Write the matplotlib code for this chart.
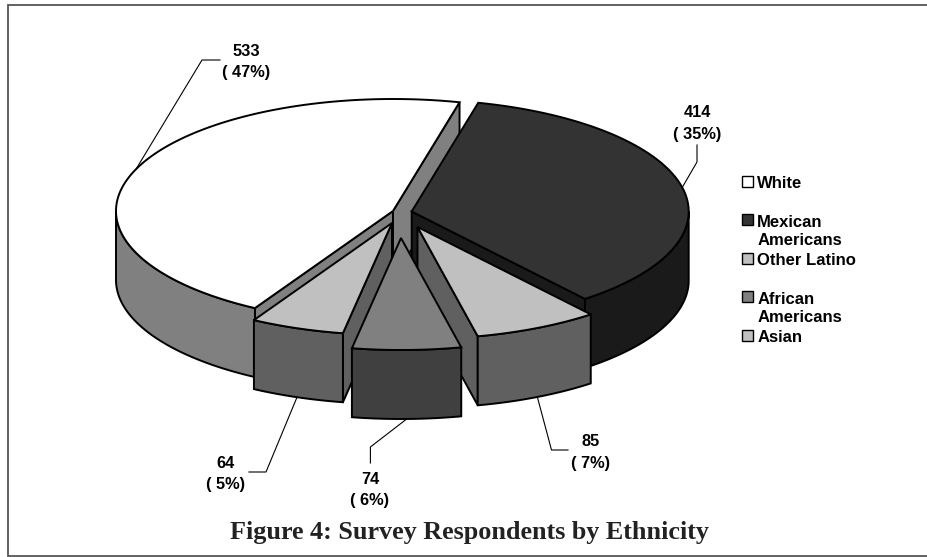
import numpy as np
import matplotlib
matplotlib.use('Agg')
import matplotlib.pyplot as plt
from matplotlib.patches import Polygon, Rectangle

categories = ['White', 'Mexican\nAmericans', 'Other Latino', 'African\nAmericans', 'Asian']
counts = [533, 414, 85, 74, 64]
percents = [47, 35, 7, 6, 5]

# top face, outer wall and cut face of each slice
top_colors = ['#ffffff', '#333333', '#c0c0c0', '#808080', '#c0c0c0']
wall_colors = ['#808080', '#1a1a1a', '#606060', '#404040', '#606060']

# layout in pixels
first_angle = 240.1
rx, ry = 277, 112
depth = 69
slice_centers = [(393, 211), (411.7, 211.5), (417.5, 227), (401, 238), (392, 223)]
label_pos = [(246.5, 51.5), (697.5, 112.5), (590.5, 442), (370, 479.5), (226, 463.5)]
knees = [[(202, 60), (220, 60)], [(697, 162), (697, 145)], [(551.5, 450), (568, 450)],
         [(370.4, 447), (370.4, 463)], [(266, 472), (249, 472)]]
draw_order = [0, 1, 2, 4, 3]

plt.rcParams['font.family'] = ['Liberation Sans', 'DejaVu Sans']

fig = plt.figure(figsize=(9.28, 5.57), dpi=100)
ax = fig.add_axes([0, 0, 1, 1])
ax.set_xlim(0, 928)
ax.set_ylim(557, 0)
ax.axis('off')

# the frame runs off the right edge
ax.add_patch(Rectangle((8.5, 4.5), 940, 551, fc='white', ec='#555555', lw=1.3))


def rim(center, angles):
    a = np.radians(angles)
    return np.column_stack([center[0] + rx * np.cos(a), center[1] - ry * np.sin(a)])


def face(points, fc):
    ax.add_patch(Polygon(points, closed=True, fc=fc, ec='black', lw=1.4, joinstyle='miter'))


total = sum(counts)
sweeps = np.array(counts) / total * 360
stops = first_angle - np.concatenate([[0], np.cumsum(sweeps)])

for i in draw_order:
    hi, lo = stops[i], stops[i + 1]
    c = slice_centers[i]
    drop = np.array([0, depth])

    # only the cut faces turned towards the viewer
    for ang, show in ((hi, np.cos(np.radians(hi)) < 0), (lo, np.cos(np.radians(lo)) > 0)):
        if show:
            edge = np.array([c, rim(c, [ang])[0]])
            face(np.vstack([edge, edge[::-1] + drop]), wall_colors[i])

    if hi > 180:
        wall = np.linspace(180, hi, 80)
    elif hi > 0:
        wall = np.linspace(lo, 0, 80)
    else:
        wall = np.linspace(lo, hi, 80)
    arc = rim(c, wall)
    face(np.vstack([arc, arc[::-1] + drop]), wall_colors[i])

    arc = rim(c, np.linspace(lo, hi, 200))
    face(np.vstack([[c], arc]), top_colors[i])

# leader lines start on the rim at the middle of each slice
for i in range(len(counts)):
    mid = (stops[i] + stops[i + 1]) / 2
    start = rim(slice_centers[i], [mid])[0]
    if np.sin(np.radians(mid)) < 0:
        start = start + [0, depth]
    pts = np.vstack([start, knees[i]])
    ax.plot(pts[:, 0], pts[:, 1], color='black', lw=0.8)
    x, y = label_pos[i]
    ax.text(x, y, str(counts[i]), ha='center', va='center', fontsize=11.8, fontweight='bold')
    ax.text(x, y + 21.5, '( %d%%)' % percents[i], ha='center', va='center', fontsize=11.8, fontweight='bold')

# legend
for i, name in enumerate(categories):
    y = 181.5 + 38.4 * i
    ax.add_patch(Rectangle((742, y - 5.5), 11, 11, fc=top_colors[i], ec='black', lw=1.0))
    ax.text(757.3, y - 5, name, ha='left', va='top', fontsize=12, fontweight='bold', linespacing=1.28)

ax.text(470, 532, 'Figure 4: Survey Respondents by Ethnicity', ha='center', va='center',
        fontsize=18.8, fontweight='bold', family=['Liberation Serif', 'DejaVu Serif'], color='#222222')

fig.savefig('out.png', dpi=100)
